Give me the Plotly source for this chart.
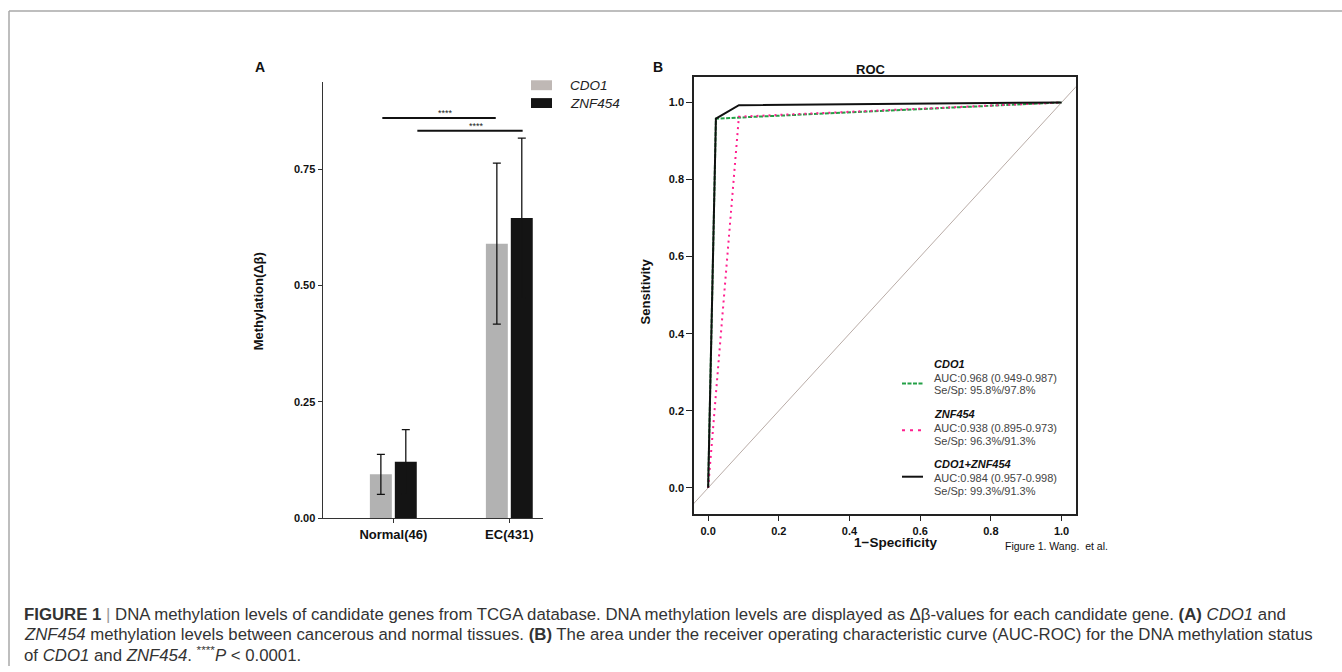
import plotly.graph_objects as go

W, H = 1342, 672

# ---- Panel A: methylation levels (mean and SD of delta-beta) ----
groups = ["Normal(46)", "EC(431)"]
cdo1_mean = [0.094, 0.590]
cdo1_sd = [0.043, 0.173]
znf454_mean = [0.121, 0.645]
znf454_sd = [0.069, 0.172]
a_ticks = [0.0, 0.25, 0.50, 0.75]
a_ticktext = ["0.00", "0.25", "0.50", "0.75"]

# significance brackets: (x start, x end, height, label)
sig_x0 = [-0.095, 0.207]
sig_x1 = [0.883, 1.115]
sig_y = [0.860, 0.833]
sig_label = ["****", "****"]

# ---- Panel B: ROC curves (1-specificity, sensitivity) ----
cdo1_fpr = [0.0, 0.022, 1.0]
cdo1_tpr = [0.0, 0.958, 1.0]
znf454_fpr = [0.0, 0.087, 1.0]
znf454_tpr = [0.0, 0.963, 1.0]
combo_fpr = [0.0, 0.022, 0.087, 1.0]
combo_tpr = [0.0, 0.958, 0.993, 1.0]
b_ticks = [0.0, 0.2, 0.4, 0.6, 0.8, 1.0]
b_ticktext = ["0.0", "0.2", "0.4", "0.6", "0.8", "1.0"]

roc_names = ["CDO1", "ZNF454", "CDO1+ZNF454"]
roc_auc = ["AUC:0.968 (0.949-0.987)", "AUC:0.938 (0.895-0.973)", "AUC:0.984 (0.957-0.998)"]
roc_sesp = ["Se/Sp: 95.8%/97.8%", "Se/Sp: 96.3%/91.3%", "Se/Sp: 99.3%/91.3%"]

caption_lines = [
    "<b>FIGURE 1</b> <span style='color:#999'>|</span> DNA methylation levels of candidate genes from TCGA database. "
    "DNA methylation levels are displayed as Δβ-values for each candidate gene. <b>(A)</b> <i>CDO1</i> and",
    "<i>ZNF454</i> methylation levels between cancerous and normal tissues. <b>(B)</b> The area under the receiver "
    "operating characteristic curve (AUC-ROC) for the DNA methylation status",
    "of <i>CDO1</i> and <i>ZNF454</i>. <sup>****</sup><i>P</i> &lt; 0.0001.",
]

FONT = "Liberation Sans, Arial, sans-serif"
GRAY_BAR = "#b2b2b2"
BLACK_BAR = "#141414"
GREEN = "#23a046"
PINK = "#ff1f8e"


def px(x):
    return x / W


def py(y):
    return 1 - y / H


fig = go.Figure()

fig.add_trace(go.Bar(
    x=groups, y=cdo1_mean, name="CDO1", marker=dict(color=GRAY_BAR, line=dict(width=0)),
    error_y=dict(type="data", array=cdo1_sd, color="#111", thickness=1.3, width=4),
    xaxis="x", yaxis="y", showlegend=False,
))
fig.add_trace(go.Bar(
    x=groups, y=znf454_mean, name="ZNF454", marker=dict(color=BLACK_BAR, line=dict(width=0)),
    error_y=dict(type="data", array=znf454_sd, color=BLACK_BAR, thickness=1.3, width=4),
    xaxis="x", yaxis="y", showlegend=False,
))

# reference diagonal
fig.add_trace(go.Scatter(
    x=[-0.2, 1.2], y=[-0.2, 1.2], mode="lines",
    line=dict(color="#b9aca7", width=1), xaxis="x2", yaxis="y2", showlegend=False,
))
fig.add_trace(go.Scatter(
    x=cdo1_fpr, y=cdo1_tpr, mode="lines", name="CDO1",
    line=dict(color=GREEN, width=2, dash="4px,1.5px"), xaxis="x2", yaxis="y2", showlegend=False,
))
fig.add_trace(go.Scatter(
    x=znf454_fpr, y=znf454_tpr, mode="lines", name="ZNF454",
    line=dict(color=PINK, width=2, dash="2px,4px"), xaxis="x2", yaxis="y2", showlegend=False,
))
fig.add_trace(go.Scatter(
    x=combo_fpr, y=combo_tpr, mode="lines", name="CDO1+ZNF454",
    line=dict(color="#111", width=2), xaxis="x2", yaxis="y2", showlegend=False,
))

shapes = []
annotations = []

# figure frame (top and left edges)
shapes.append(dict(type="line", xref="paper", yref="paper", x0=px(9), x1=1.0, y0=py(11), y1=py(11),
                   line=dict(color="#a8a8a8", width=1.5)))
shapes.append(dict(type="line", xref="paper", yref="paper", x0=px(9), x1=px(9), y0=py(11), y1=0.0,
                   line=dict(color="#a8a8a8", width=1.5)))

# significance brackets
for x0, x1, yv, lab in zip(sig_x0, sig_x1, sig_y, sig_label):
    shapes.append(dict(type="line", xref="x", yref="y", x0=x0, x1=x1, y0=yv, y1=yv,
                       line=dict(color="#111", width=2)))
    annotations.append(dict(xref="x", yref="y", x=(x0 + x1) / 2 + 0.06, y=yv, text=lab, showarrow=False,
                            yanchor="bottom", yshift=-2, font=dict(family=FONT, size=9, color="#222")))

# panel A legend
for i, (name, col) in enumerate([("CDO1", "#bfb8b5"), ("ZNF454", BLACK_BAR)]):
    yc = 86 + 18 * i
    shapes.append(dict(type="rect", xref="paper", yref="paper", x0=px(531), x1=px(552),
                       y0=py(yc + 5), y1=py(yc - 5), line=dict(width=0), fillcolor=col))
    annotations.append(dict(xref="paper", yref="paper", x=px(568), y=py(yc), xanchor="left", yanchor="middle",
                            text="<i>%s</i>" % name, showarrow=False,
                            font=dict(family=FONT, size=13.5, color="#222")))

# panel B legend
sample_dash = ["4px,1.5px", "3px,5px", "solid"]
sample_col = [GREEN, PINK, "#111"]
sample_y = [387, 434, 481]
title_y = [367, 418, 468]
for i in range(3):
    shapes.append(dict(type="line", xref="paper", yref="paper", x0=px(902), x1=px(923),
                       y0=py(sample_y[i]), y1=py(sample_y[i]),
                       line=dict(color=sample_col[i], width=2, dash=sample_dash[i])))
    annotations.append(dict(xref="paper", yref="paper", x=px(932), y=py(title_y[i]), xanchor="left",
                            yanchor="middle", showarrow=False, text="<b><i>%s</i></b>" % roc_names[i],
                            font=dict(family=FONT, size=11, color="#111")))
    annotations.append(dict(xref="paper", yref="paper", x=px(932), y=py(title_y[i] + 14), xanchor="left",
                            yanchor="middle", showarrow=False, text=roc_auc[i],
                            font=dict(family=FONT, size=11, color="#444")))
    annotations.append(dict(xref="paper", yref="paper", x=px(932), y=py(title_y[i] + 27), xanchor="left",
                            yanchor="middle", showarrow=False, text=roc_sesp[i],
                            font=dict(family=FONT, size=11, color="#444")))

# panel letters, titles and axis labels
text_items = [
    ("<b>A</b>", 260, 68, 14, "center", 0),
    ("<b>B</b>", 658, 68, 14, "center", 0),
    ("<b>Methylation(Δβ)</b>", 258, 304, 13, "center", -90),
    ("<b>ROC</b>", 871, 70, 13, "center", 0),
    ("<b>Sensitivity</b>", 645, 294, 13, "center", -90),
    ("<b>1−Specificity</b>", 895, 547, 13.5, "center", 0),
    ("Figure 1. Wang.  et al.", 1003, 551, 10.5, "left", 0),
]
for txt, x, y, size, anchor, ang in text_items:
    annotations.append(dict(xref="paper", yref="paper", x=px(x), y=py(y), text=txt, showarrow=False,
                            xanchor=anchor, yanchor="middle", textangle=ang,
                            font=dict(family=FONT, size=size, color="#111")))

# caption
for i, line in enumerate(caption_lines):
    annotations.append(dict(xref="paper", yref="paper", x=px(22), y=py(620 + 20 * i), text=line,
                            showarrow=False, xanchor="left", yanchor="middle",
                            font=dict(family=FONT, size=16.8, color="#333")))

axis_a = dict(showgrid=False, zeroline=False, showline=True, linecolor="#333", linewidth=1.3,
              ticks="outside", ticklen=4, tickcolor="#333", tickwidth=1.2)
axis_b = dict(showgrid=False, zeroline=False, showline=True, linecolor="#222", linewidth=1.5,
              mirror=True, ticks="outside", ticklen=6, tickcolor="#222", tickwidth=1.2)

fig.update_layout(
    width=W, height=H,
    margin=dict(l=0, r=0, t=0, b=0),
    paper_bgcolor="white", plot_bgcolor="white",
    barmode="group", bargap=0.57, bargroupgap=0.12,
    font=dict(family=FONT, color="#111"),
    xaxis=dict(domain=[px(322.7), px(543.3)], anchor="y", type="category",
               range=[-0.609, 1.293], tickfont=dict(family=FONT, size=13, color="#111", weight="bold"),
               **axis_a),
    yaxis=dict(domain=[py(522.7), py(83)], anchor="x", range=[0, 0.937],
               tickvals=a_ticks, ticktext=a_ticktext,
               tickfont=dict(family=FONT, size=11, color="#111", weight="bold"), **axis_a),
    xaxis2=dict(domain=[px(694), px(1075.7)], anchor="y2", range=[-0.04, 1.04],
                tickvals=b_ticks, ticktext=b_ticktext,
                tickfont=dict(family=FONT, size=11, color="#111", weight="bold"), **axis_b),
    yaxis2=dict(domain=[py(518.3), py(77.7)], anchor="x2", range=[-0.067, 1.066],
                tickvals=b_ticks, ticktext=b_ticktext,
                tickfont=dict(family=FONT, size=11, color="#111", weight="bold"), **axis_b),
    shapes=shapes,
    annotations=annotations,
)

fig.write_html("out.html")
